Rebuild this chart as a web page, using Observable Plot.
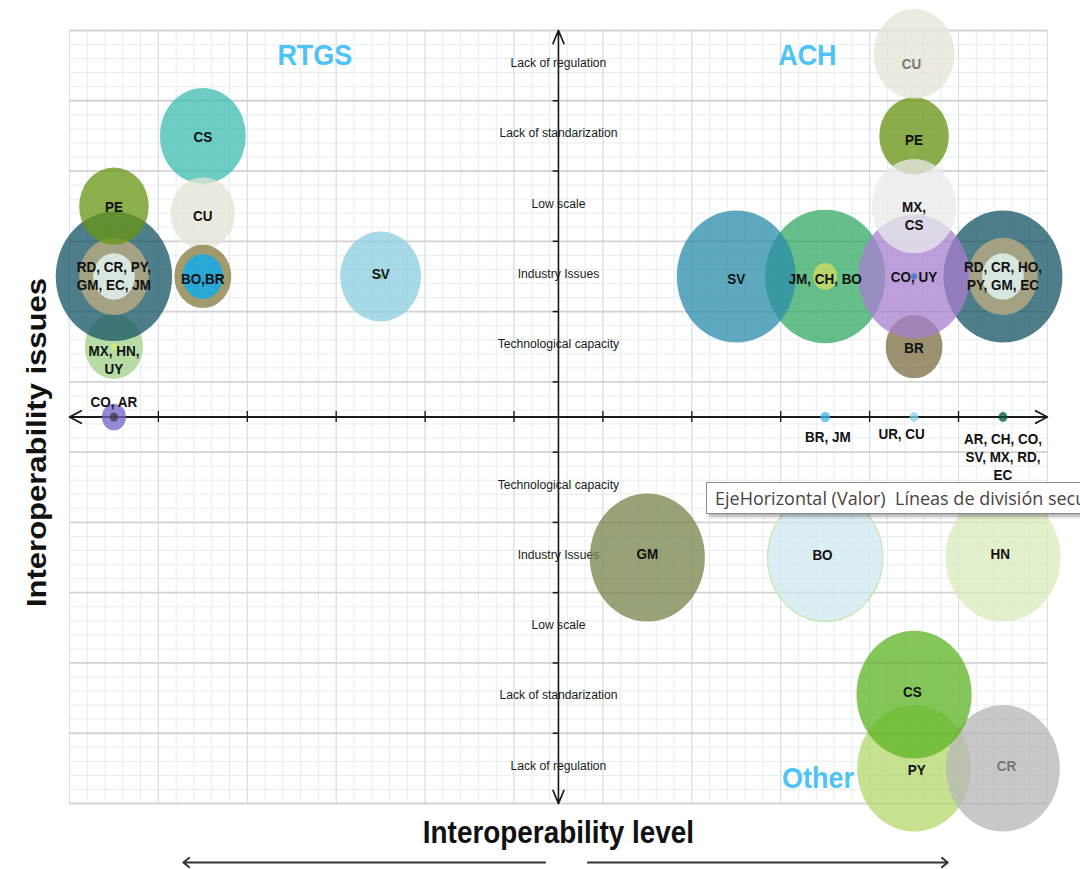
<!DOCTYPE html>
<html>
<head>
<meta charset="utf-8">
<script src="https://cdn.jsdelivr.net/npm/d3@7"></script>
<script src="https://cdn.jsdelivr.net/npm/@observablehq/plot@0.6"></script>
<style>
html, body { margin: 0; padding: 0; background: #fff; overflow: hidden; width: 1080px; height: 869px; }
#wrap { position: relative; width: 1080px; height: 869px; overflow: hidden; }
#chart { position: absolute; left: 0; top: 0; width: 1200px; height: 869px; transform: scaleX(0.9); transform-origin: 0 0; }
#chart svg { max-width: none !important; width: 1200px !important; height: 869px !important; display: block; }
#tip { position: absolute; left: 706px; top: 482px; height: 32px; width: 430px; box-sizing: border-box;
  background: #fff; border: 1px solid #8c8c8c; box-shadow: 3px 3px 3px rgba(0,0,0,0.3);
  font-family: "Open Sans", "Liberation Sans", sans-serif; font-size: 18px; line-height: 30px; color: #4a4440;
  padding-left: 8px; white-space: nowrap; }
</style>
</head>
<body>
<div id="wrap">
  <div id="chart"></div>
  <div id="tip">EjeHorizontal (Valor)&nbsp; Líneas de división secundarias</div>
</div>
<script>
// ---------- DATA ----------
// issue categories (mirrored above / below the horizontal axis)
const issueNames = ["Technological capacity", "Industry Issues", "Low scale", "Lack of standarization", "Lack of regulation"];
const issueRank = [1, 2, 3, 4, 5];

// group titles
const groupNames = ["RTGS", "ACH", "Other"];

// bubbles (draw order): interoperability level (x), issue position (y), bubble size
const bubbleName = [
  "RTGS CS", "RTGS CU", "RTGS MX, HN, UY", "RTGS MX, HN, UY centre",
  "RTGS RD..JM outer", "RTGS RD..JM middle", "RTGS RD..JM inner", "RTGS PE",
  "RTGS BO,BR outer", "RTGS BO,BR inner", "RTGS SV", "RTGS SV centre", "RTGS CO, AR", "RTGS CO, AR centre",
  "ACH JM, CH, BO", "ACH JM, CH, BO inner", "ACH SV", "ACH BR",
  "ACH RD..EC outer", "ACH RD..EC middle", "ACH RD..EC inner", "ACH CO, UY",
  "ACH PE", "ACH MX, CS", "ACH CU", "ACH CO, UY centre",
  "Axis BR, JM", "Axis UR, CU", "Axis AR..EC",
  "Other GM", "Other BO", "Other HN", "Other PY", "Other CR", "Other CS"
];
const bubbleLevel = [
  -4, -4, -5, -5,
  -5, -5, -5, -5,
  -4, -4, -2, -2, -5, -5,
  3, 3, 2, 4,
  5, 5, 5, 4,
  4, 4, 4, 4,
  3, 4, 5,
  1, 3, 5, 4, 5, 4
];
const bubbleIssue = [
  4, 2.9, 1, 1,
  2, 2, 2, 3,
  2, 2, 2, 2, 0, 0,
  2, 2, 2, 1,
  2, 2, 2, 2,
  4, 3, 5.17, 2,
  0, 0, 0,
  -2, -2, -2, -5, -5, -3.95
];
const bubbleSize = [
  0.68, 0.51, 0.46, 0.045,
  0.92, 0.55, 0.33, 0.55,
  0.45, 0.32, 0.64, 0.035, 0.19, 0.065,
  0.95, 0.19, 0.94, 0.45,
  0.94, 0.55, 0.33, 0.88,
  0.55, 0.67, 0.64, 0.045,
  0.075, 0.07, 0.07,
  0.91, 0.91, 0.91, 0.9, 0.9, 0.91
];

// country labels
const labelText = [
  "CS", "PE", "CU", "RD, CR, PY,\nGM, EC, JM", "BO,BR", "SV", "MX, HN,\nUY", "CO, AR",
  "CU", "PE", "MX,\nCS", "SV", "JM, CH, BO", "CO, UY", "RD, CR, HO,\nPY, GM, EC", "BR",
  "BR, JM", "UR, CU", "AR, CH, CO,\nSV, MX, RD,\nEC",
  "GM", "BO", "HN", "CS", "PY", "CR"
];
const labelLevel = [
  -4, -5, -4, -5, -4, -2, -5, -5,
  3.97, 4, 4, 2, 3, 4, 5, 4,
  3.03, 3.86, 5,
  1, 2.97, 4.97, 3.98, 4.03, 5.04
];
const labelIssue = [
  4, 3, 2.87, 2.02, 1.97, 2.04, 0.82, 0.23,
  5.04, 3.95, 2.87, 1.98, 1.97, 2, 2.02, 0.99,
  -0.28, -0.23, -0.56,
  -1.94, -1.95, -1.94, -3.9, -5.01, -4.96
];

// ---------- STYLES ----------
const bubblePalette = [
  "#3cbcb0", "#e4e3d3", "#9fd287", "#dbf069",
  "#145364", "#c2af82", "#eafcff", "#679613",
  "#847a3c", "#00acf9", "#8accdf", "#4caf50", "#7263c8", "#463645",
  "#33a864", "#d5de60", "#2a8cab", "#7b6c40",
  "#145364", "#c2af82", "#eafcff", "#a77fd0",
  "#669210", "#eaeaea", "#e6e4d6", "#3c6fc4",
  "#3eb6eb", "#8bd3f2", "#005636",
  "#75834a", "#cfe8f0", "#daebbb", "#b3d76b", "#b6b6b6", "#5cb323"
];
const greyLabels = new Set([8, 24]);
const font = "'Liberation Sans', Arial, Helvetica, sans-serif";

// ---------- BUILD ----------
const bubbles = bubbleName.map((name, i) => ({
  name, level: bubbleLevel[i], issue: bubbleIssue[i], size: bubbleSize[i], color: bubblePalette[i]
}));
const labels = labelText.map((text, i) => ({
  text, level: labelLevel[i], issue: labelIssue[i], color: greyLabels.has(i) ? "#777" : "#111"
}));
const issueLabels = [
  ...issueNames.map((n, i) => ({name: n, issue: issueRank[i]})),
  ...issueNames.map((n, i) => ({name: n, issue: -issueRank[i]}))
];
const groups = [
  {name: groupNames[0], level: -2.74, issue: 5.14},
  {name: groupNames[1], level: 2.8, issue: 5.14},
  {name: groupNames[2], level: 2.92, issue: -5.14}
];

const lim = 5.5;
const minor = d3.range(56).map(i => -lim + i * 0.2);
const major = d3.range(12).map(i => -lim + i);
const ticks = d3.range(10).map(i => -4.5 + i);
const axes = [
  {x1: 0, y1: 0, x2: -lim, y2: 0}, {x1: 0, y1: 0, x2: lim, y2: 0},
  {x1: 0, y1: 0, x2: 0, y2: lim}, {x1: 0, y1: 0, x2: 0, y2: -lim}
];
const levelArrows = [
  {x1: -0.15, x2: -4.22, y: -6.34}, {x1: 0.33, x2: 4.38, y: -6.34}
];

const chart = Plot.plot({
  width: 1200,
  height: 869,
  marginLeft: 76.7,
  marginRight: 36.7,
  marginTop: 30,
  marginBottom: 66,
  style: {fontFamily: font, overflow: "visible", background: "transparent", maxWidth: "none"},
  x: {domain: [-lim, lim], axis: null},
  y: {domain: [-lim, lim], axis: null},
  r: {type: "linear", domain: [0, 1], range: [0, 773 / 11]},
  color: {type: "identity"},
  marks: [
    Plot.ruleX(minor, {x: d => d, stroke: "#e3ecec", strokeWidth: 1}),
    Plot.ruleY(minor, {y: d => d, stroke: "#e6eded", strokeWidth: 1}),
    Plot.ruleX(major, {x: d => d, stroke: "#d6e0e1", strokeWidth: 1.2}),
    Plot.ruleY(major, {y: d => d, stroke: "#d3d3d3", strokeWidth: 1.8}),
    Plot.text(issueLabels, {x: 0, y: "issue", text: "name", fontSize: 13.5, fill: "#1a1a1a", dy: -3, fontFamily: font}),
    Plot.arrow(axes, {x1: "x1", y1: "y1", x2: "x2", y2: "y2", stroke: "#1a1a1a", strokeWidth: 1.8, headLength: 12, headAngle: 50}),
    Plot.ruleX(ticks, {x: d => d, y1: -0.08, y2: 0.08, stroke: "#1a1a1a", strokeWidth: 1.5}),
    Plot.ruleY(ticks, {y: d => d, x1: -0.06, x2: 0, stroke: "#1a1a1a", strokeWidth: 1.5}),
    Plot.dot(bubbles, {x: "level", y: "issue", r: "size", fill: "color", fillOpacity: 0.75, sort: null}),
    Plot.dot(bubbles.filter(d => d.name === "Other BO"), {x: "level", y: "issue", r: "size", fill: "none", stroke: "#cbe6b2", strokeWidth: 1.5}),
    Plot.text(labels, {x: "level", y: "issue", text: "text", fill: "color", fontWeight: "bold", fontSize: 15, lineHeight: 1.2, fontFamily: font}),
    Plot.text(groups, {x: "level", y: "issue", text: "name", fill: "#4fc3f7", fontWeight: "bold", fontSize: 30, fontFamily: font}),
    Plot.text(["Interoperability level"], {frameAnchor: "bottom", textAnchor: "middle", lineAnchor: "middle", dy: 30, fontSize: 31, fontWeight: "bold", fill: "#111", fontFamily: font}),
    Plot.text(["Interoperability issues"], {frameAnchor: "left", textAnchor: "middle", lineAnchor: "middle", rotate: -90, dx: -35.5, dy: 25.5, fontSize: 31, fontWeight: "bold", fill: "#111", fontFamily: font}),
    Plot.arrow(levelArrows, {x1: "x1", y1: "y", x2: "x2", y2: "y", stroke: "#333", strokeWidth: 2, headLength: 6, headAngle: 70})
  ]
});
document.getElementById("chart").appendChild(chart);
</script>
</body>
</html>
